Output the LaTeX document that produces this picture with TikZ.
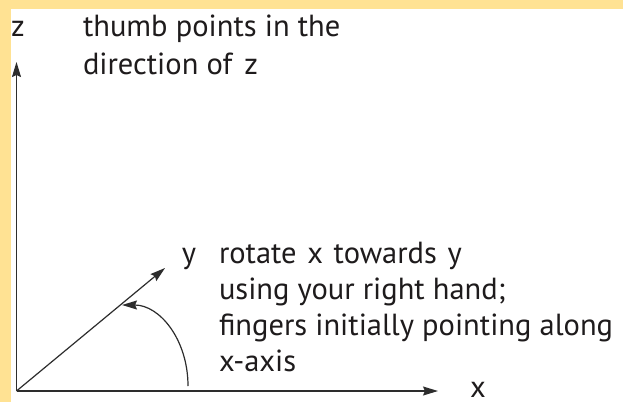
\documentclass[tikz,border=0pt]{standalone}
\usepackage{fontspec}
\setmainfont{PT Sans}
\usetikzlibrary{arrows.meta}
\definecolor{bandyellow}{RGB}{255,226,147}
\definecolor{inkgray}{RGB}{30,27,28}
\definecolor{axisgray}{RGB}{45,45,45}
\tikzset{
  axis/.style={draw=axisgray, line width=1.2pt, -{Stealth[length=15pt,width=9pt,inset=2pt]}},
  lbl/.style={font=\fontsize{30.5}{37}\selectfont, text=inkgray, inner sep=0pt, outer sep=0pt},
  txt/.style={lbl, anchor=base west},
}
\begin{document}
\begin{tikzpicture}[x=1pt,y=-1pt]
  \useasboundingbox (0,0) rectangle (623,402);
  \fill[bandyellow] (0,0) rectangle (623,402);
  \fill[white] (11,9) rectangle (623,402);
  \coordinate (O) at (16.5,391);
  \coordinate (Z) at (16.5,62);
  \coordinate (X) at (438,391);
  \coordinate (Y) at (165,268);
  \coordinate (A0) at (188,386);
  \coordinate (A1) at (122,305);
  \draw[axis] (O) -- (Z);
  \draw[axis] (O) -- (X);
  \draw[axis] (O) -- (Y);
  \draw[axis] (A0) .. controls (188,340) and (160,305) .. (A1);
  \node[lbl, anchor=base] (zl) at (18,36) {z};
  \node[lbl, anchor=base] (xl) at (478,397) {x};
  \node[lbl, anchor=base] (yl) at (189,263) {y};
  \node[txt] (t1) at (83,36) {thumb points in the};
  \node[txt] (t2) at (83,74) {direction of\hspace{0.4em}z};
  \node[txt] (r1) at (219,263) {rotate\hspace{0.35em}x\hspace{0.35em}towards\hspace{0.35em}y};
  \node[txt] (r2) at (219,299) {using your right hand;};
  \node[txt] (r3) at (219,335) {fingers initially pointing along};
  \node[txt] (r4) at (219,371) {x-axis};
\end{tikzpicture}
\end{document}
